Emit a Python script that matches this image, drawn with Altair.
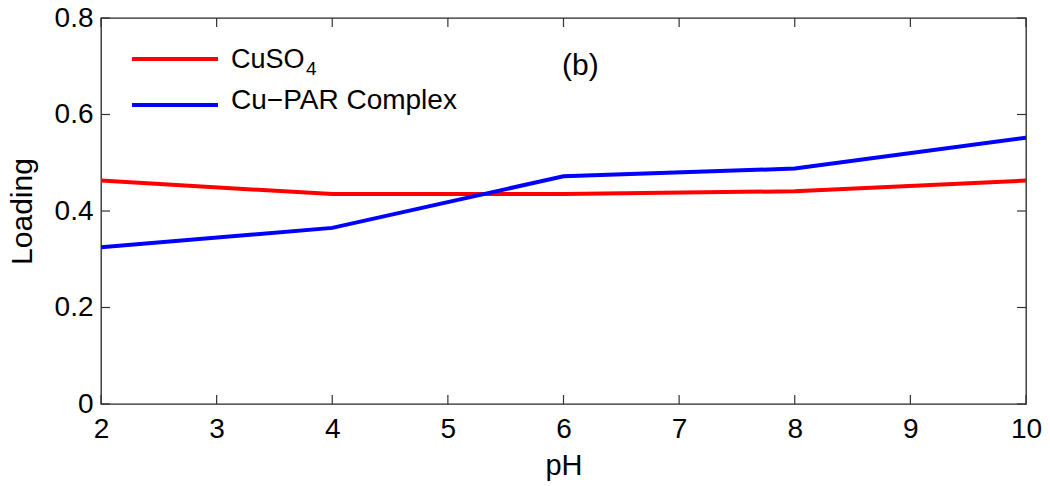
import altair as alt
import pandas as pd

# Loading versus pH for the two copper species
ph = [2, 4, 6, 8, 10]
cuso4 = [0.463, 0.435, 0.435, 0.441, 0.463]
cu_par = [0.325, 0.365, 0.472, 0.488, 0.552]
series_names = ["CuSO4", "Cu-PAR Complex"]
series_colors = ["#ff0000", "#0000ff"]

x_ticks = [2, 3, 4, 5, 6, 7, 8, 9, 10]
y_ticks = [0, 0.2, 0.4, 0.6, 0.8]

W, H = 925, 386
FONT = "Liberation Sans"
FS = 28
LFS = 28
TICK = 9

df = pd.DataFrame({
    "pH": ph * 2,
    "Loading": cuso4 + cu_par,
    "series": [series_names[0]] * len(ph) + [series_names[1]] * len(ph),
})

xscale = alt.Scale(domain=[2, 10], nice=False, zero=False)
yscale = alt.Scale(domain=[0, 0.8], nice=False)

x_axis = alt.Axis(
    values=x_ticks, format="d", title="pH", ticks=False, domain=False,
    grid=False, labelFontSize=FS, titleFontSize=29, labelFont=FONT,
    titleFont=FONT, labelColor="black", titleColor="black",
    titleFontWeight="normal", labelPadding=11, titlePadding=8,
    labelFlush=False)
y_axis = alt.Axis(
    values=y_ticks, title="Loading", ticks=False, domain=False,
    grid=False, labelFontSize=FS, titleFontSize=30, labelFont=FONT,
    titleFont=FONT, labelColor="black", titleColor="black",
    titleFontWeight="normal", labelPadding=8, titlePadding=17,
    labelFlush=False,
    labelExpr="datum.value == 0 ? '0' : format(datum.value, '.1f')")

lines = alt.Chart(df).mark_line(strokeWidth=4, clip=True).encode(
    x=alt.X("pH:Q", scale=xscale, axis=x_axis),
    y=alt.Y("Loading:Q", scale=yscale, axis=y_axis),
    color=alt.Color("series:N", scale=alt.Scale(domain=series_names, range=series_colors), legend=None),
    detail="series:N",
)

# inward-pointing ticks on all four sides of the frame
xt = pd.DataFrame({"pH": x_ticks})
yt = pd.DataFrame({"Loading": y_ticks})
tick_color = "#333333"
bottom_ticks = alt.Chart(xt).mark_rule(color=tick_color, strokeWidth=1.2).encode(
    x=alt.X("pH:Q", scale=xscale, axis=x_axis), y=alt.value(H), y2=alt.value(H - TICK))
top_ticks = alt.Chart(xt).mark_rule(color=tick_color, strokeWidth=1.2).encode(
    x=alt.X("pH:Q", scale=xscale, axis=x_axis), y=alt.value(0), y2=alt.value(TICK))
left_ticks = alt.Chart(yt).mark_rule(color=tick_color, strokeWidth=1.2).encode(
    y=alt.Y("Loading:Q", scale=yscale, axis=y_axis), x=alt.value(0), x2=alt.value(TICK))
right_ticks = alt.Chart(yt).mark_rule(color=tick_color, strokeWidth=1.2).encode(
    y=alt.Y("Loading:Q", scale=yscale, axis=y_axis), x=alt.value(W), x2=alt.value(W - TICK))

# legend contents
leg = pd.DataFrame({"k": [0]})
red_key = alt.Chart(leg).mark_rule(color=series_colors[0], strokeWidth=4).encode(
    x=alt.value(31), x2=alt.value(117), y=alt.value(41))
blue_key = alt.Chart(leg).mark_rule(color=series_colors[1], strokeWidth=4).encode(
    x=alt.value(31), x2=alt.value(117), y=alt.value(87))
txt = dict(font=FONT, color="black", align="left", baseline="alphabetic")
cuso_text = alt.Chart(leg).mark_text(fontSize=27, text="CuSO", **txt).encode(
    x=alt.value(130), y=alt.value(50))
sub_text = alt.Chart(leg).mark_text(fontSize=19, text="4", **txt).encode(
    x=alt.value(205), y=alt.value(57))
par_text = alt.Chart(leg).mark_text(fontSize=LFS, text="Cu\u2212PAR Complex", **txt).encode(
    x=alt.value(130), y=alt.value(91))
panel_text = alt.Chart(leg).mark_text(fontSize=30, text="(b)", **txt).encode(
    x=alt.value(461), y=alt.value(57))

chart = alt.layer(
    lines, bottom_ticks, top_ticks, left_ticks, right_ticks,
    red_key, blue_key, cuso_text, sub_text, par_text, panel_text,
).properties(
    width=W, height=H,
    autosize=alt.AutoSizeParams(type="none"),
    padding={"left": 101, "top": 18, "right": 24, "bottom": 82},
    background="white",
).configure_view(
    stroke="#262626", strokeWidth=1.3,
)

chart.save("out.html", embed_options={"renderer": "svg", "actions": False})
